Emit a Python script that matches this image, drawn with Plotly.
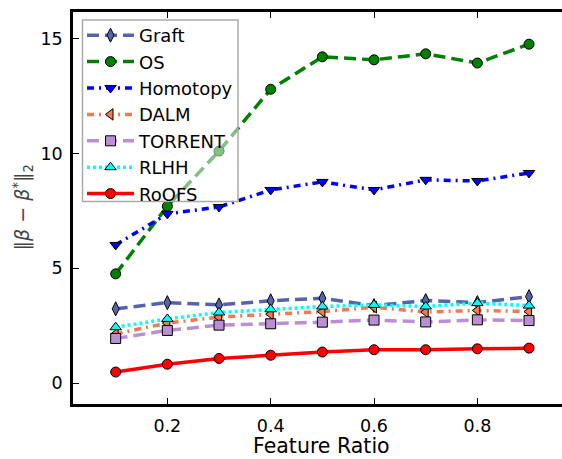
import plotly.graph_objects as go

feature_ratio = [0.1, 0.2, 0.3, 0.4, 0.5, 0.6, 0.7, 0.8, 0.9]

graft = [3.24, 3.51, 3.41, 3.59, 3.70, 3.38, 3.60, 3.51, 3.77]
os_vals = [4.76, 7.70, 10.10, 12.79, 14.20, 14.07, 14.33, 13.93, 14.75]
homotopy = [6.02, 7.37, 7.67, 8.41, 8.76, 8.41, 8.85, 8.80, 9.15]
dalm = [2.15, 2.62, 2.88, 3.01, 3.12, 3.31, 3.10, 3.17, 3.12]
torrent = [1.95, 2.30, 2.53, 2.59, 2.66, 2.75, 2.67, 2.76, 2.73]
rlhh = [2.44, 2.80, 3.08, 3.22, 3.34, 3.41, 3.34, 3.49, 3.38]
roofs = [0.49, 0.83, 1.08, 1.22, 1.36, 1.46, 1.46, 1.50, 1.53]

series_names = ["Graft", "OS", "Homotopy", "DALM", "TORRENT", "RLHH", "RoOFS"]
series_values = [graft, os_vals, homotopy, dalm, torrent, rlhh, roofs]
x_tick_vals = [0.2, 0.4, 0.6, 0.8]
y_tick_vals = [0, 5, 10, 15]

styles = {
    "Graft": dict(color="#5464AC", dash="12px,6px", symbol="diamond-tall"),
    "OS": dict(color="#008000", dash="12px,6px", symbol="circle"),
    "Homotopy": dict(color="#0000FF", dash="7px,5px,2px,5px", symbol="triangle-down"),
    "DALM": dict(color="#F27A4E", dash="7px,5px,2px,5px", symbol="triangle-left"),
    "TORRENT": dict(color="#BA8FD4", dash="12px,6px", symbol="square"),
    "RLHH": dict(color="#00FFFF", dash="3px,3px", symbol="triangle-up"),
    "RoOFS": dict(color="#FF0000", dash="solid", symbol="circle"),
}

fig = go.Figure()
for name, vals in zip(series_names, series_values):
    s = styles[name]
    fig.add_trace(go.Scatter(
        x=feature_ratio, y=vals, name=name, mode="lines+markers",
        line=dict(color=s["color"], width=3.5, dash=s["dash"]),
        marker=dict(symbol=s["symbol"], size=10, color=s["color"],
                    line=dict(color="black", width=1)),
    ))

W, H = 562, 459
ml, mr, mt, mb = 73, 0, 12, 55
pw, ph = W - ml - mr, H - mt - mb


def px_x(p):
    return (p - ml) / pw


def px_y(p):
    return 1 - (p - mt) / ph


fig.update_layout(
    width=W, height=H,
    margin=dict(l=ml, r=mr, t=mt, b=mb, autoexpand=False),
    paper_bgcolor="white", plot_bgcolor="white",
    font=dict(family="DejaVu Sans", size=17.5, color="black"),
    showlegend=True,
    legend=dict(
        x=px_x(82), y=px_y(17), xanchor="left", yanchor="top",
        bgcolor="rgba(0,0,0,0)", borderwidth=0,
        font=dict(family="DejaVu Sans", size=18), itemwidth=47,
        tracegroupgap=0,
    ),
    shapes=[dict(
        type="rect", xref="paper", yref="paper", layer="above",
        x0=px_x(82.5), x1=px_x(238), y0=px_y(201.5), y1=px_y(20),
        fillcolor="rgba(255,255,255,0.5)", line=dict(color="#aaaaaa", width=1.5),
    )],
    xaxis=dict(
        range=[0.0174, 0.9638], tickvals=x_tick_vals, ticktext=["0.2", "0.4", "0.6", "0.8"],
        showline=True, linecolor="black", linewidth=2.5, mirror="allticks",
        ticks="inside", ticklen=6, tickwidth=1.2, tickcolor="black",
        showgrid=False, zeroline=False, ticklabelstandoff=4, automargin=False,
    ),
    yaxis=dict(
        range=[-0.9, 16.15], tickvals=y_tick_vals,
        showline=True, linecolor="black", linewidth=2.5, mirror=False,
        ticks="inside", ticklen=6, tickwidth=1.2, tickcolor="black",
        showgrid=False, zeroline=False, ticklabelstandoff=4, automargin=False,
    ),
    annotations=[
        dict(
            text="Feature Ratio", xref="paper", yref="paper",
            x=px_x(321.7), y=0, yshift=-42,
            xanchor="center", yanchor="middle", showarrow=False,
            font=dict(size=20.5, color="black"),
        ),
        dict(
            text="‖<i>β</i> − <i>β</i><sup>*</sup>‖<sub>2</sub>",
            xref="paper", yref="paper",
            x=px_x(23), y=px_y(207.5),
            xanchor="center", yanchor="middle", showarrow=False, textangle=-90,
            font=dict(size=19, color="#444444"),
        ),
    ],
)

fig.write_html(
    "out.html",
    config={"displayModeBar": False},
    post_script="document.body.style.margin='0';document.body.style.overflow='hidden';",
)
